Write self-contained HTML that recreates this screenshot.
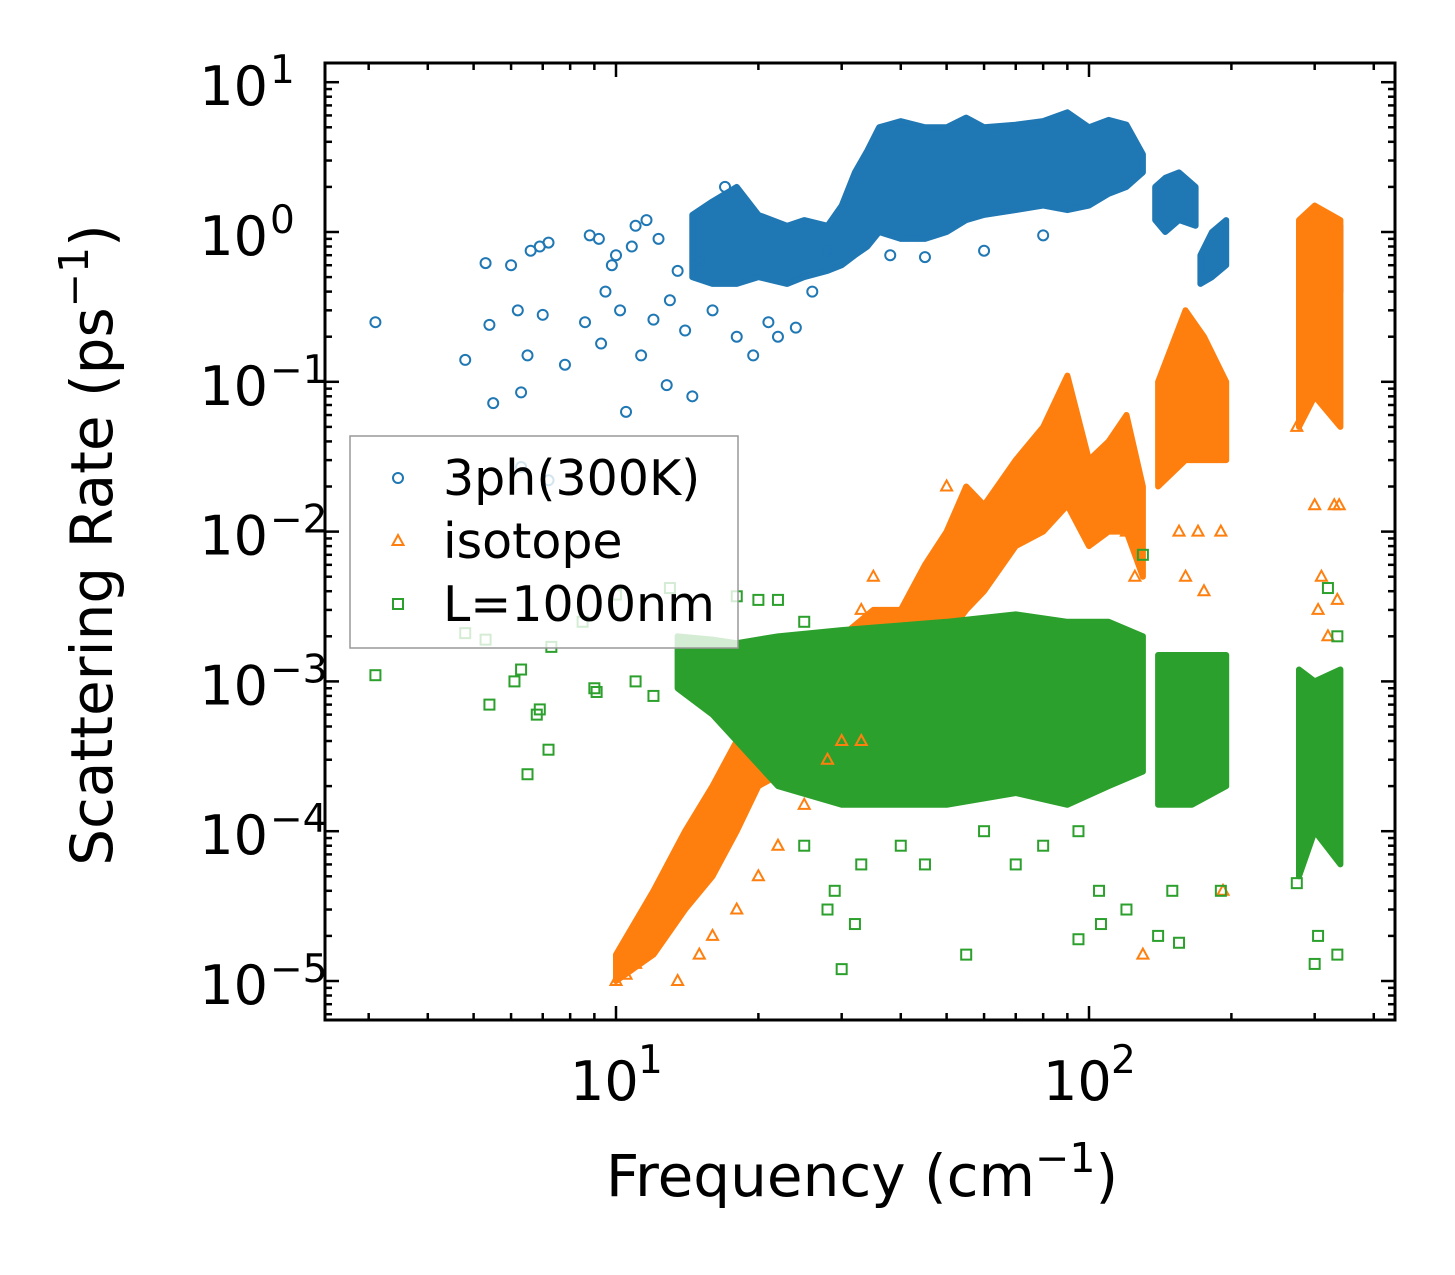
<!DOCTYPE html>
<html><head><meta charset="utf-8"><style>
html,body{margin:0;padding:0;background:#fff;}
svg text{font-family:"DejaVu Sans","Liberation Sans",sans-serif;fill:#000;}
</style></head><body>
<svg id="chart" width="1455" height="1270" viewBox="0 0 1455 1270" xmlns="http://www.w3.org/2000/svg">
<rect x="0" y="0" width="1455" height="1270" fill="#fff"/>
<g id="bands"></g>
<g id="points"></g>
<g id="axes"></g>
<g id="legend"></g>
</svg>
<script>
// ---- data ----
const xTickValues=[10,100];
const xTickExp=['1','2'];
const yTickValues=[10,1,0.1,0.01,0.001,0.0001,0.00001];
const yTickExp=['1','0','\u22121','\u22122','\u22123','\u22124','\u22125'];
// dense bands: [freq, low, high]
const blueBand=[[14.5,0.5,1.3],[16,0.45,1.6],[18,0.45,2],[20,0.5,1.3],[23,0.45,1.1],[25,0.5,1.2],[28,0.55,1.1],[30,0.6,1.5],[32,0.7,2.5],[34,0.8,3.5],[36,1,5],[40,0.9,5.5],[45,0.9,5],[50,1,5],[55,1.2,5.8],[60,1.3,5],[70,1.4,5.2],[80,1.5,5.5],[90,1.4,6.3],[100,1.5,5],[110,1.8,5.6],[120,2,5.2],[130,2.5,3.3]];
const blueBand2=[[138,1.2,2],[145,1,2.3],[155,1.2,2.5],[168,1.1,2]];
const blueBand3=[[172,0.45,0.7],[182,0.5,1],[195,0.6,1.2]];
const blueBand4=[[278,0.35,1.1],[300,0.4,1.1],[320,0.35,0.9],[340,0.4,1.1]];
const orangeBand=[[10,1e-5,1.5e-5],[12,1.5e-5,4e-5],[14,3e-5,1e-4],[16,5e-5,2e-4],[18,1e-4,4e-4],[20,2e-4,8e-4],[30,4e-4,2e-3],[35,8e-4,3e-3],[40,1e-3,3e-3],[45,1.5e-3,6e-3],[50,2e-3,1e-2],[55,3e-3,2e-2],[60,4e-3,1.5e-2],[70,8e-3,3e-2],[80,1e-2,5e-2],[90,1.5e-2,1.1e-1],[100,8e-3,3e-2],[110,1e-2,4e-2],[120,1e-2,6e-2],[130,5e-3,2e-2]];
const orangeBand2=[[140,2e-2,1e-1],[160,3e-2,3e-1],[175,3e-2,2e-1],[195,3e-2,1e-1]];
const orangeBand3=[[278,5e-2,1.2],[300,8e-2,1.5],[340,5e-2,1.2]];
const greenBand=[[13.5,9e-4,2e-3],[16,6e-4,1.9e-3],[18,4e-4,1.8e-3],[22,2e-4,2e-3],[30,1.5e-4,2.2e-3],[50,1.5e-4,2.5e-3],[70,1.8e-4,2.8e-3],[90,1.5e-4,2.5e-3],[110,2e-4,2.5e-3],[130,2.5e-4,2e-3]];
const greenBand2=[[140,1.5e-4,1.5e-3],[165,1.5e-4,1.5e-3],[195,2e-4,1.5e-3]];
const greenBand3=[[278,5e-5,1.2e-3],[300,1e-4,1e-3],[340,6e-5,1.2e-3]];
// sparse points
const bluePts=[[3.1,0.25],[4.8,0.14],[5.3,0.62],[5.4,0.24],[5.5,0.072],[6,0.6],[6.2,0.3],[6.3,0.085],[6.6,0.75],[6.5,0.15],[6.9,0.8],[7,0.28],[7.2,0.85],[7.8,0.13],[8.6,0.25],[8.8,0.95],[9.2,0.9],[9.3,0.18],[9.5,0.4],[9.8,0.6],[10,0.7],[10.2,0.3],[10.5,0.063],[10.8,0.8],[11,1.1],[11.3,0.15],[11.6,1.2],[12,0.26],[12.3,0.9],[12.8,0.095],[13,0.35],[13.5,0.55],[14,0.22],[14.5,0.08],[15,0.65],[16,0.3],[17,2.0],[18,0.2],[19.5,0.15],[21,0.25],[22,0.2],[24,0.23],[26,0.4],[28,0.75],[38,0.7],[45,0.68],[60,0.75],[80,0.95],[6.3,0.027],[7.2,0.022]];
const orangePts=[[10,1e-5],[10.5,1.1e-5],[11,1.3e-5],[12,2e-5],[13.5,1e-5],[15,1.5e-5],[16,2e-5],[18,3e-5],[20,5e-5],[22,8e-5],[25,1.5e-4],[28,3e-4],[30,4e-4],[33,4e-4],[35,5e-3],[33,3e-3],[50,2e-2],[45,5e-3],[130,1.5e-5],[150,5e-2],[155,1e-2],[160,5e-3],[170,1e-2],[175,4e-3],[190,1e-2],[192,4e-5],[275,5e-2],[300,1.5e-2],[305,3e-3],[310,5e-3],[320,2e-3],[330,1.5e-2],[335,3.5e-3],[338,1.5e-2],[125,5e-3],[120,1e-2]];
const greenPts=[[3.1,1.1e-3],[4.8,2.1e-3],[5.3,1.9e-3],[5.4,7e-4],[6.1,1e-3],[6.3,1.2e-3],[6.5,2.4e-4],[6.8,6e-4],[6.9,6.5e-4],[7.2,3.5e-4],[7.3,1.7e-3],[8.5,2.5e-3],[9,9e-4],[9.1,8.5e-4],[10,3.8e-3],[11,1e-3],[12,8e-4],[13,4.2e-3],[18,3.7e-3],[20,3.5e-3],[22,3.5e-3],[25,2.5e-3],[28,3e-5],[30,1.2e-5],[29,4e-5],[32,2.4e-5],[33,6e-5],[40,8e-5],[45,6e-5],[55,1.5e-5],[70,6e-5],[80,8e-5],[95,1.9e-5],[105,4e-5],[106,2.4e-5],[120,3e-5],[130,7e-3],[140,2e-5],[150,4e-5],[155,1.8e-5],[190,4e-5],[275,4.5e-5],[300,1.3e-5],[305,2e-5],[320,4.2e-3],[335,1.5e-5],[335,2e-3],[25,8e-5],[60,1e-4],[95,1e-4]];

// ---- scales ----
const L=325,R=1395,T=63,B=1020;
function xs(f){return 616+473*Math.log10(f/10);}
function ys(v){return 232-149.8*Math.log10(v);}
const NS='http://www.w3.org/2000/svg';
function mk(tag,attrs,parent){const e=document.createElementNS(NS,tag);for(const k in attrs)e.setAttribute(k,attrs[k]);parent.appendChild(e);return e;}
const C={b:'#1f77b4',o:'#ff7f0e',g:'#2ca02c'};

const bands=document.getElementById('bands');
function band(data,color,name){
  const top=data.map(d=>xs(d[0]).toFixed(1)+','+ys(d[2]).toFixed(1));
  const bot=data.slice().reverse().map(d=>xs(d[0]).toFixed(1)+','+ys(d[1]).toFixed(1));
  const p=mk('polygon',{points:top.concat(bot).join(' '),fill:color,stroke:color,'stroke-width':6,'stroke-linejoin':'round'},bands);
  
  
}
band(blueBand,C.b,'3ph-dense-band');band(blueBand2,C.b,'3ph-dense-band');band(blueBand3,C.b,'3ph-dense-band');band(blueBand4,C.b,'3ph-dense-band');
band(orangeBand,C.o,'isotope-dense-band');band(orangeBand2,C.o,'isotope-dense-band');band(orangeBand3,C.o,'isotope-dense-band');
band(greenBand,C.g,'boundary-dense-band');band(greenBand2,C.g,'boundary-dense-band');band(greenBand3,C.g,'boundary-dense-band');

const pts=document.getElementById('points');
bluePts.forEach(d=>{const c=mk('circle',{cx:xs(d[0]),cy:ys(d[1]),r:5,fill:'none',stroke:C.b,'stroke-width':2},pts);

});
orangePts.forEach(d=>{const x=xs(d[0]),y=ys(d[1]);const p=mk('polygon',{points:`${x},${y-6} ${x-5.5},${y+4} ${x+5.5},${y+4}`,fill:'none',stroke:C.o,'stroke-width':2},pts);

});
greenPts.forEach(d=>{const r=mk('rect',{x:xs(d[0])-5,y:ys(d[1])-5,width:10,height:10,fill:'none',stroke:C.g,'stroke-width':2},pts);

});

// ---- axes ----
const ax=document.getElementById('axes');
const frame=mk('rect',{x:L,y:T,width:R-L,height:B-T,fill:'none',stroke:'#000','stroke-width':3},ax);


function tick(x1,y1,x2,y2){mk('line',{x1,y1,x2,y2,stroke:'#000','stroke-width':2.5},ax);}
for(let dec=1;dec<=100;dec*=10){for(let m=1;m<=9;m++){const f=dec*m;const x=xs(f);if(x<L||x>R)continue;const len=m===1?14:7;tick(x,B,x,B-len);tick(x,T,x,T+len);}}
xTickValues.forEach((v,i)=>{const t=mk('text',{x:xs(v)-46,y:1100,'font-size':54},ax);t.textContent='10';


const s=mk('text',{x:xs(v)+22,y:1073,'font-size':39},ax);s.textContent=xTickExp[i];});
for(let e=-6;e<=1;e++){for(let m=1;m<=9;m++){const v=m*Math.pow(10,e);const y=ys(v);if(y<T||y>B)continue;const len=m===1?14:7;tick(L,y,L+len,y);tick(R,y,R-len,y);}}
yTickValues.forEach((v,i)=>{const y=ys(v);const t=mk('text',{x:268,y:y+23,'font-size':54,'text-anchor':'end'},ax);t.textContent='10';


const s=mk('text',{x:270,y:y+1,'font-size':39,'text-anchor':'start'},ax);s.textContent=yTickExp[i];});
const xl=mk('text',{x:862,y:1196,'font-size':58,'text-anchor':'middle'},ax);


xl.innerHTML='Frequency (cm<tspan font-size="41" dy="-24">\u22121</tspan><tspan dy="24">)</tspan>';
const yl=mk('text',{x:0,y:0,'font-size':58,'text-anchor':'middle',transform:'translate(112,545) rotate(-90)'},ax);


yl.innerHTML='Scattering Rate (ps<tspan font-size="41" dy="-24">\u22121</tspan><tspan dy="24">)</tspan>';

// ---- legend ----
const lg=document.getElementById('legend');
const lb=mk('rect',{x:350,y:436,width:388,height:212,fill:'#fff','fill-opacity':0.8,stroke:'#999','stroke-width':1.5},lg);


const labels=['3ph(300K)','isotope','L=1000nm'];
const rowsY=[478,541,604];
labels.forEach((lab,i)=>{const y=rowsY[i],x=398;
 if(i===0)mk('circle',{cx:x,cy:y,r:5,fill:'none',stroke:C.b,'stroke-width':2},lg);
 if(i===1)mk('polygon',{points:`${x},${y-6} ${x-5.5},${y+4} ${x+5.5},${y+4}`,fill:'none',stroke:C.o,'stroke-width':2},lg);
 if(i===2)mk('rect',{x:x-5,y:y-5,width:10,height:10,fill:'none',stroke:C.g,'stroke-width':2},lg);
 const t=mk('text',{x:443,y:y+17,'font-size':49},lg);t.textContent=lab;
 
 
});
</script>
</body></html>
